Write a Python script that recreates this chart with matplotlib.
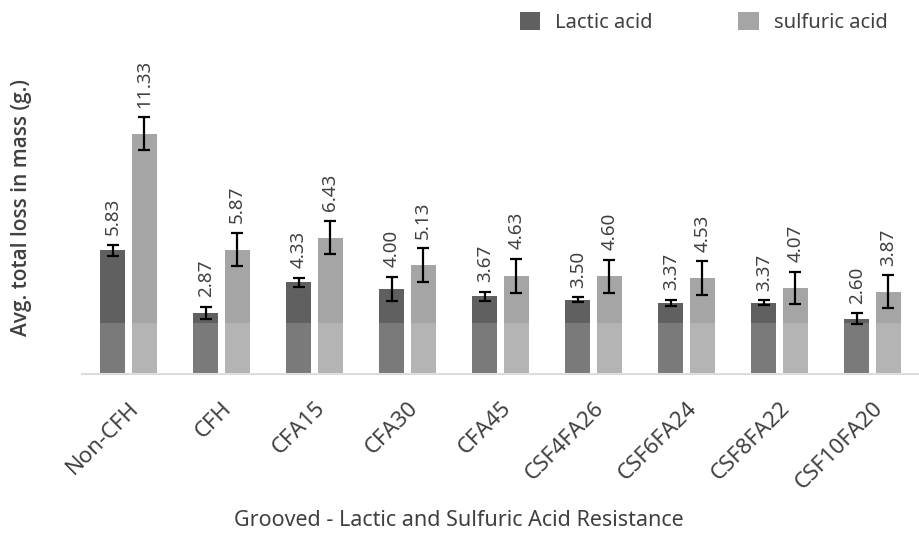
import matplotlib
matplotlib.use("Agg")
import matplotlib.pyplot as plt
from matplotlib.patches import Patch, Rectangle
import numpy as np

plt.rcParams['font.family'] = ['Noto Sans', 'DejaVu Sans']

categories = ["Non-CFH", "CFH", "CFA15", "CFA30", "CFA45",
              "CSF4FA26", "CSF6FA24", "CSF8FA22", "CSF10FA20"]
lactic = [5.83, 2.87, 4.33, 4.00, 3.67, 3.50, 3.37, 3.37, 2.60]
sulfuric = [11.33, 5.87, 6.43, 5.13, 4.63, 4.60, 4.53, 4.07, 3.87]
lactic_err = [0.26, 0.28, 0.21, 0.57, 0.21, 0.12, 0.14, 0.10, 0.26]
sulfuric_err = [0.78, 0.78, 0.78, 0.80, 0.80, 0.78, 0.78, 0.76, 0.78]
series_names = ["Lactic acid", "sulfuric acid"]
xlabel = "Grooved - Lactic and Sulfuric Acid Resistance"
ylabel = "Avg. total loss in mass (g.)"

c_lactic = "#606060"
c_sulf = "#a5a5a5"
txt = "#404040"

W, H = 919, 540
fig = plt.figure(figsize=(W / 100, H / 100), dpi=100)
ax = fig.add_axes([82 / W, 1 - 374 / H, 837 / W, (374 - 40) / H])

x = np.arange(len(categories))
bw = 0.27
off = 0.17
ax.bar(x - off, lactic, bw, color=c_lactic, zorder=2)
ax.bar(x + off, sulfuric, bw, color=c_sulf, zorder=2)

# lighter lower band (overlay as in reference)
ax.add_patch(Rectangle((0, 0), 1, 0.153, transform=ax.transAxes,
                       facecolor="white", alpha=0.17, edgecolor="none", zorder=3))

ekw = dict(fmt="none", ecolor="black", elinewidth=1.6, capsize=4, capthick=1.6, zorder=4)
ax.errorbar(x - off, lactic, yerr=lactic_err, **ekw)
ax.errorbar(x + off, sulfuric, yerr=sulfuric_err, **ekw)

for xi, v, e in zip(x - off, lactic, lactic_err):
    ax.annotate(f"{v:.2f}", (xi, v + e), xytext=(0, 7), textcoords="offset points",
                rotation=90, ha="center", va="bottom", fontsize=13.5, color=txt, zorder=5)
for xi, v, e in zip(x + off, sulfuric, sulfuric_err):
    ax.annotate(f"{v:.2f}", (xi, v + e), xytext=(0, 7), textcoords="offset points",
                rotation=90, ha="center", va="bottom", fontsize=13.5, color=txt, zorder=5)

ax.set_xlim(-0.5, len(categories) - 0.5)
ax.set_ylim(0, (374 - 40) / 21.2)
ax.set_xticks(x)
ax.set_xticklabels(categories, rotation=45, ha="right", rotation_mode="anchor",
                   fontsize=16, color=txt)
ax.tick_params(axis="x", length=0, pad=17)
ax.set_yticks([])
for s in ["top", "right", "left"]:
    ax.spines[s].set_visible(False)
ax.spines["bottom"].set_color("#d9d9d9")
ax.spines["bottom"].set_linewidth(1.5)

fig.text(459 / W, 1 - 520 / H, xlabel, ha="center", va="center", fontsize=15.5, color=txt)
fig.text(22 / W, 1 - 208 / H, ylabel, ha="center", va="center", rotation=90,
         fontsize=15, fontweight="semibold", color=txt,
         family=["Open Sans", "Lato", "DejaVu Sans"])

handles = [Patch(facecolor=c_lactic), Patch(facecolor=c_sulf)]
fig.legend(handles, series_names, loc="upper left", bbox_to_anchor=(510 / W, 1 - 2 / H),
           ncol=2, frameon=False, fontsize=14.5, handlelength=1.0, handleheight=1.0,
           handletextpad=0.75, columnspacing=4.25, borderpad=0, labelcolor=txt)

fig.savefig("out.png", dpi=100)
